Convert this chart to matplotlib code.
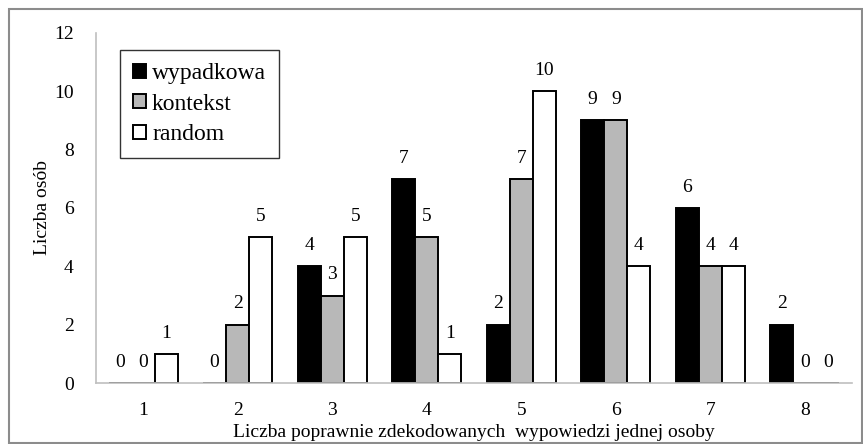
import numpy as np
import matplotlib.pyplot as plt
from matplotlib.patches import Rectangle

plt.rcParams['font.family'] = ['Liberation Serif', 'DejaVu Serif']

# dane
kategorie = ['1', '2', '3', '4', '5', '6', '7', '8']
wypadkowa = [0, 0, 4, 7, 2, 9, 6, 2]
kontekst = [0, 2, 3, 5, 7, 9, 4, 0]
random_ = [1, 5, 5, 1, 10, 4, 4, 0]

fig = plt.figure(figsize=(8.63, 4.44), dpi=100)
ax = fig.add_axes([96/863, 1 - 383/444, 756/863, 350/444])

x = np.arange(len(kategorie))
w = 0.245
serie = [(wypadkowa, 'black', 'wypadkowa'),
         (kontekst, '#b8b8b8', 'kontekst'),
         (random_, 'white', 'random')]

for i, (vals, kolor, nazwa) in enumerate(serie):
    pos = x + (i - 1) * w
    ax.bar(pos, vals, w, color=kolor, edgecolor='black', linewidth=1.4,
           label=nazwa)
    for p, v in zip(pos, vals):
        ax.text(p, v + 0.42, str(v), ha='center', va='bottom', fontsize=14)

ax.set_xlim(-0.5, 7.5)
ax.set_ylim(0, 12)
ax.set_yticks(range(0, 13, 2))
ax.set_xticks(x)
ax.set_xticklabels(kategorie)
ax.tick_params(axis='x', length=0, labelsize=14, pad=14)
ax.tick_params(axis='y', length=0, labelsize=14, pad=16)
for s in ['top', 'right']:
    ax.spines[s].set_visible(False)
for s in ['left', 'bottom']:
    ax.spines[s].set_color('#bfbfbf')
    ax.spines[s].set_linewidth(1.2)

ax.set_xlabel('Liczba poprawnie zdekodowanych  wypowiedzi jednej osoby', fontsize=14, labelpad=3)
ax.set_ylabel('Liczba osób', fontsize=14, labelpad=2)

leg = ax.legend(loc='upper left', bbox_to_anchor=(0.032, 0.951), fontsize=17,
                frameon=True, fancybox=False, handlelength=0.55, handleheight=0.55,
                handletextpad=0.25, labelspacing=0.4, borderpad=0.55, borderaxespad=0)
leg.get_frame().set_edgecolor('black')
leg.get_frame().set_linewidth(1.0)

# ramka wokół wykresu
fig.patches.append(Rectangle((9/863, 1/444), 853/863, 434/444, transform=fig.transFigure,
                             fill=False, edgecolor='#8c8c8c', linewidth=1.5))

fig.savefig('out.png', dpi=100)
